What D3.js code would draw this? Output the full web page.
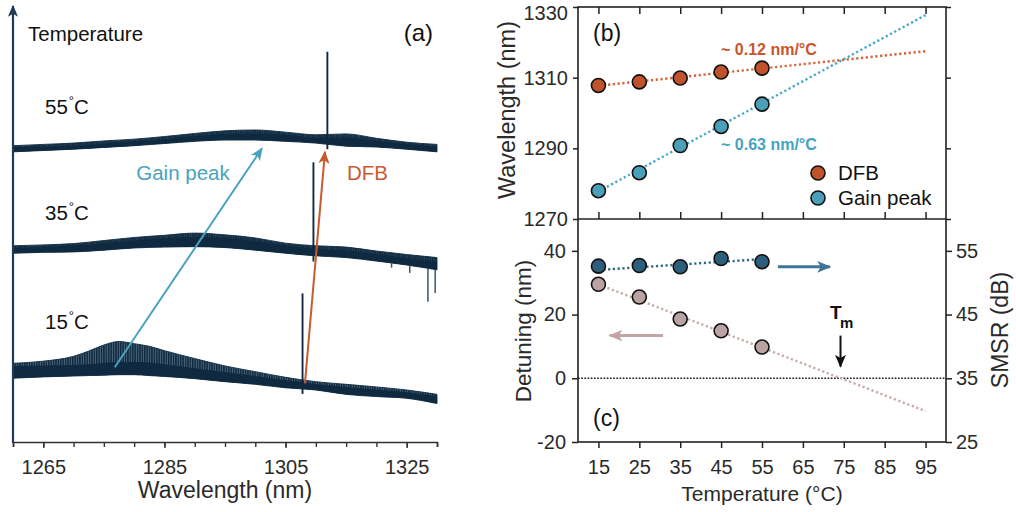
<!DOCTYPE html>
<html><head><meta charset="utf-8">
<script src="https://cdn.jsdelivr.net/npm/d3@7"></script>
<style>
body{margin:0;background:#fff}
svg{display:block}
text{font-family:"Liberation Sans", Arial, Helvetica, sans-serif}
</style>
</head><body>
<svg id="chart" width="1016" height="512"></svg>
<script>
// ================= DATA =================
// Panel (a): optical spectra (relative level, a.u.), envelopes
const specLambda = [1260,1265,1270,1275,1280,1285,1290,1295,1300,1305,1310,1315,1320,1325,1330];
const spec55Top    = [67.8,68.1,68.4,68.9,69.3,69.9,70.6,71.2,71.4,70.9,70.3,70.5,69.5,68.6,68.1];
const spec55Core   = [67.4,67.6,67.8,68.3,68.8,69.3,70.0,70.5,70.6,70.3,69.6,69.6,68.9,68.2,67.5];
const spec55Bottom = [66.4,66.7,67.0,67.4,67.8,68.3,68.8,69.1,69.1,68.8,68.4,67.7,67.5,67.0,66.4];
const spec35Top    = [44.9,45.1,45.4,46.1,46.8,47.3,47.8,47.4,46.7,45.5,44.9,44.6,43.7,42.9,42.2];
const spec35Core   = [44.4,44.6,45.0,45.5,46.1,46.6,46.9,46.7,46.0,45.0,44.2,43.9,43.0,42.1,41.2];
const spec35Bottom = [43.2,43.4,43.5,43.9,44.4,44.6,44.7,44.5,43.9,43.2,42.6,42.2,41.4,40.5,39.4];
const spec15Lambda = [1260,1265,1270,1272.5,1275,1277.5,1280,1282.5,1285,1290,1295,1300,1305,1310,1315,1320,1325,1330];
const spec15Top    = [18.0,18.5,19.6,20.8,22.2,23.0,22.5,21.9,20.9,19.1,17.4,16.1,14.8,13.8,13.2,12.6,11.9,10.9];
const spec15Core   = [17.4,17.5,17.6,17.8,18.1,18.3,18.3,18.2,17.8,16.9,16.0,15.1,14.2,13.3,12.6,12.0,11.4,10.5];
const spec15Bottom = [14.6,14.9,15.1,15.2,15.3,15.4,15.4,15.2,15.0,14.5,13.8,13.2,12.4,11.9,10.9,10.4,10.0,8.8];
const dfbPeakLambda = [1307.8,1309.6,1311.9];
const dfbPeakTop    = [34.0,64.0,89.3];
const dfbPeakDip    = [11.0,41.3,67.0];
const dropLambda = [1322.5,1325.5,1328.5,1329.7];
const dropFrom   = [41.0,40.4,39.8,39.5];
const dropTo     = [39.9,38.7,32.1,34.1];
const traceTemps = ["15","35","55"];
const xTicksA = [1265,1285,1305,1325];
const xMinorA = [1260,1265,1270,1275,1280,1285,1290,1295,1300,1305,1310,1315,1320,1325,1330];
const gainArrowLambda = [1276.8,1301.1];
const gainArrowLevel  = [17.1,67.2];
const dfbArrowLambda  = [1308.2,1311.5];
const dfbArrowLevel   = [13.4,66.4];

// Panel (b)
const temps   = [15,25,35,45,55];
const dfbWl   = [1307.8,1308.8,1309.9,1311.6,1312.7];
const gainWl  = [1278.0,1283.1,1290.8,1296.2,1302.5];
const fitT    = [15,95];
const dfbFit  = [1307.7,1317.5];
const gainFit = [1277.8,1327.7];
const wlTicks = [1270,1290,1310,1330];
const legendNames = ["DFB","Gain peak"];

// Panel (c)
const detuning = [29.5,25.5,18.6,14.9,9.8];
const detFit   = [29.5,-10.3];
const smsr     = [52.6,52.7,52.5,53.8,53.3];
const smsrFitT = [15,55];
const smsrFit  = [52.0,53.7];
const tempTicks = [15,25,35,45,55,65,75,85,95];
const detTicks  = [-20,0,20,40];
const smsrTicks = [25,35,45,55];
const smsrArrowT = [58.9,71.6];
const smsrArrowV = [52.5,52.5];
const detArrowT  = [30.8,17.8];
const detArrowV  = [13.4,13.4];
const tmArrowT   = [74.2,74.2];
const tmArrowV   = [13.4,3.7];

// ================= COLOURS =================
const NAVY = "#0f2a40", TEAL = "#4aa3bd", ORANGE = "#c85a32";
const C_DFB = "#c0532b", C_GAIN = "#4aa0b8", C_DET = "#baa3a3", C_SMSR = "#2d5f7d";
const TXT = "#2a2a2a";
const plainFmt = d => String(d);

const svg = d3.select("#chart");
const defs = svg.append("defs");

function marker(id, color, size) {
  defs.append("marker").attr("id", id).attr("viewBox", "0 0 10 10")
    .attr("refX", 9).attr("refY", 5).attr("markerUnits", "userSpaceOnUse")
    .attr("markerWidth", size).attr("markerHeight", size).attr("orient", "auto")
    .append("path").attr("d", "M0,0.8 L10,5 L0,9.2 L2.5,5 Z").attr("fill", color);
}
marker("mTeal", TEAL, 13);
marker("mOrange", ORANGE, 13);
marker("mNavy", "#1e3b55", 12);
marker("mBlue", "#3f7596", 14);
marker("mPink", "#c2a5a5", 14);
marker("mBlack", "#111", 13);

function fringePattern(id, bg) {
  const p = defs.append("pattern").attr("id", id).attr("patternUnits", "userSpaceOnUse")
    .attr("width", 2.4).attr("height", 10);
  p.append("rect").attr("width", 2.4).attr("height", 10).attr("fill", bg);
  p.append("rect").attr("width", 1.5).attr("height", 10).attr("fill", NAVY);
}
fringePattern("fringeLight", "#4f687c");
fringePattern("fringeDark", "#2b4459");

// ================= PANEL (a) =================
const xA = d3.scaleLinear().domain([1260,1330]).range([13,437]);
const yA = d3.scaleLinear().domain([0,100]).range([442,5]);
const gA = svg.append("g");

function drawTrace(lam, top, core, bottom, fillId) {
  const idx = d3.range(lam.length);
  const outer = d3.area().x(i => xA(lam[i])).y0(i => yA(bottom[i])).y1(i => yA(top[i])).curve(d3.curveMonotoneX);
  const inner = d3.area().x(i => xA(lam[i])).y0(i => yA(bottom[i])).y1(i => yA(core[i])).curve(d3.curveMonotoneX);
  gA.append("path").attr("d", outer(idx)).attr("fill", `url(#${fillId})`).attr("stroke", NAVY).attr("stroke-width", 0.9);
  gA.append("path").attr("d", inner(idx)).attr("fill", NAVY);
}
drawTrace(spec15Lambda, spec15Top, spec15Core, spec15Bottom, "fringeLight");
drawTrace(specLambda, spec35Top, spec35Core, spec35Bottom, "fringeDark");
drawTrace(specLambda, spec55Top, spec55Core, spec55Bottom, "fringeDark");

dfbPeakLambda.forEach((l, i) => {
  gA.append("line").attr("x1", xA(l)).attr("x2", xA(l))
    .attr("y1", yA(dfbPeakDip[i])).attr("y2", yA(dfbPeakTop[i]))
    .attr("stroke", NAVY).attr("stroke-width", 1.9);
});
dropLambda.forEach((l, i) => {
  gA.append("line").attr("x1", xA(l)).attr("x2", xA(l))
    .attr("y1", yA(dropFrom[i])).attr("y2", yA(dropTo[i]))
    .attr("stroke", "#3a5468").attr("stroke-width", 1.5);
});

// arrows
gA.append("line").attr("x1", xA(gainArrowLambda[0])).attr("y1", yA(gainArrowLevel[0]))
  .attr("x2", xA(gainArrowLambda[1])).attr("y2", yA(gainArrowLevel[1]))
  .attr("stroke", TEAL).attr("stroke-width", 2).attr("marker-end", "url(#mTeal)");
gA.append("line").attr("x1", xA(dfbArrowLambda[0])).attr("y1", yA(dfbArrowLevel[0]))
  .attr("x2", xA(dfbArrowLambda[1])).attr("y2", yA(dfbArrowLevel[1]))
  .attr("stroke", ORANGE).attr("stroke-width", 2).attr("marker-end", "url(#mOrange)");

// axes (a)
gA.append("line").attr("x1", 13).attr("x2", 13).attr("y1", 443).attr("y2", 6)
  .attr("stroke", "#1e3b55").attr("stroke-width", 2.2).attr("marker-end", "url(#mNavy)");
const axA = gA.append("g").attr("transform", "translate(0,442)")
  .call(d3.axisBottom(xA).tickValues(xMinorA).tickSize(5).tickFormat(""));
axA.select(".domain").attr("stroke", "#333").attr("stroke-width", 1.6);
axA.selectAll(".tick line").attr("stroke", "#333").attr("stroke-width", 1.4);
const axA2 = gA.append("g").attr("transform", "translate(0,442)")
  .call(d3.axisBottom(xA).tickValues(xTicksA).tickSize(6).tickPadding(12).tickFormat(plainFmt));
axA2.select(".domain").remove();
axA2.selectAll(".tick line").attr("stroke", "#333").attr("stroke-width", 1.4);
axA2.selectAll("text").attr("font-size", 20).attr("fill", TXT).attr("font-family", "Liberation Sans, Arial, sans-serif");

gA.append("text").attr("x", 225).attr("y", 498).attr("text-anchor", "middle")
  .attr("font-size", 23).attr("fill", TXT).text("Wavelength (nm)");
gA.append("text").attr("x", 28).attr("y", 40.5).attr("font-size", 20.5).attr("fill", "#111").text("Temperature");
gA.append("text").attr("x", 433).attr("y", 41).attr("text-anchor", "end").attr("font-size", 24).attr("fill", "#111").text("(a)");

const labelY = [329, 220, 114];
traceTemps.forEach((t, i) => {
  const tx = gA.append("text").attr("x", 45).attr("y", labelY[i]).attr("font-size", 20.5).attr("fill", "#111");
  tx.append("tspan").text(t);
  tx.append("tspan").attr("font-size", 13).attr("dy", -9).attr("dx", 1).text("°");
  tx.append("tspan").attr("dy", 9).text("C");
});
gA.append("text").attr("x", 183).attr("y", 180).attr("text-anchor", "middle")
  .attr("font-size", 20.5).attr("fill", TEAL).text("Gain peak");
gA.append("text").attr("x", 347).attr("y", 180)
  .attr("font-size", 20.5).attr("fill", ORANGE).text("DFB");

// ================= PANELS (b) & (c) =================
const xT = d3.scaleLinear().domain([10,100]).range([578,946]);
const yB = d3.scaleLinear().domain([1270,1330]).range([219,7]);
const yC = d3.scaleLinear().domain([-20,50]).range([442,219]);
const yS = d3.scaleLinear().domain([25,60]).range([442,219]);
const gR = svg.append("g");

function styleAxis(sel, showText) {
  sel.select(".domain").remove();
  sel.selectAll(".tick line").attr("stroke", "#222").attr("stroke-width", 1.5);
  sel.selectAll("text").attr("font-size", 20).attr("fill", TXT).attr("font-family", "Liberation Sans, Arial, sans-serif");
  if (!showText) sel.selectAll("text").remove();
}
// (b) axes
const axBL = gR.append("g").attr("transform", "translate(578,0)")
  .call(d3.axisLeft(yB).tickValues(wlTicks).tickSize(5).tickPadding(5).tickFormat(plainFmt));
styleAxis(axBL, true);
axBL.selectAll(".tick text").filter(d => d === wlTicks[wlTicks.length - 1]).attr("dy", "0.6em");
styleAxis(gR.append("g").attr("transform", "translate(946,0)")
  .call(d3.axisRight(yB).tickValues(wlTicks).tickSize(5)), false);
styleAxis(gR.append("g").attr("transform", "translate(0,7)")
  .call(d3.axisTop(xT).tickValues(tempTicks).tickSize(-7)), false);
styleAxis(gR.append("g").attr("transform", "translate(0,219)")
  .call(d3.axisBottom(xT).tickValues(tempTicks).tickSize(-7)), false);
// (c) axes
styleAxis(gR.append("g").attr("transform", "translate(0,442)")
  .call(d3.axisBottom(xT).tickValues(tempTicks).tickSize(6).tickPadding(12).tickFormat(plainFmt)), true);
styleAxis(gR.append("g").attr("transform", "translate(578,0)")
  .call(d3.axisLeft(yC).tickValues(detTicks).tickSize(6).tickPadding(6).tickFormat(plainFmt)), true);
styleAxis(gR.append("g").attr("transform", "translate(946,0)")
  .call(d3.axisRight(yS).tickValues(smsrTicks).tickSize(6).tickPadding(4).tickFormat(plainFmt)), true);

// frames
gR.append("rect").attr("x", 578).attr("y", 7).attr("width", 368).attr("height", 435)
  .attr("fill", "none").attr("stroke", "#222").attr("stroke-width", 1.6);
gR.append("line").attr("x1", 578).attr("x2", 946).attr("y1", 219).attr("y2", 219)
  .attr("stroke", "#222").attr("stroke-width", 1.6);

// zero line (c)
gR.append("line").attr("x1", 578).attr("x2", 946).attr("y1", yC(0)).attr("y2", yC(0))
  .attr("stroke", "#111").attr("stroke-width", 1.5).attr("stroke-dasharray", "1.6,1.6");

// fit lines
function fit(xs, ys, yScale, color) {
  gR.append("path").attr("d", d3.line().x((d, i) => xT(xs[i])).y(d => yScale(d))(ys))
    .attr("fill", "none").attr("stroke", color).attr("stroke-width", 2.4).attr("stroke-dasharray", "2.2,2.6");
}
fit(fitT, dfbFit, yB, "#d4623a");
fit(fitT, gainFit, yB, "#46a8c8");
fit(fitT, detFit, yC, "#c9aaa8");
fit(smsrFitT, smsrFit, yS, "#2f6585");

// points
function pts(vals, yScale, color) {
  gR.selectAll(null).data(vals).enter().append("circle")
    .attr("cx", (d, i) => xT(temps[i])).attr("cy", d => yScale(d)).attr("r", 7)
    .attr("fill", color).attr("stroke", "#111").attr("stroke-width", 1.6);
}
pts(dfbWl, yB, C_DFB);
pts(gainWl, yB, C_GAIN);
pts(detuning, yC, C_DET);
pts(smsr, yS, C_SMSR);

// annotations (b)
gR.append("text").attr("x", 721).attr("y", 55).attr("font-size", 16).attr("font-weight", "bold")
  .attr("fill", "#c8552b").text("~ 0.12 nm/°C");
gR.append("text").attr("x", 721).attr("y", 150).attr("font-size", 16).attr("font-weight", "bold")
  .attr("fill", "#46a3bf").text("~ 0.63 nm/°C");
gR.append("text").attr("x", 593).attr("y", 41).attr("font-size", 23).attr("fill", "#111").text("(b)");
// legend
const legColors = [C_DFB, C_GAIN];
legendNames.forEach((n, i) => {
  gR.append("circle").attr("cx", 818).attr("cy", 173 + i * 25).attr("r", 7)
    .attr("fill", legColors[i]).attr("stroke", "#111").attr("stroke-width", 1.6);
  gR.append("text").attr("x", 838).attr("y", 180 + i * 25).attr("font-size", 20.5).attr("fill", "#111").text(n);
});

// annotations (c)
gR.append("line").attr("x1", xT(smsrArrowT[0])).attr("x2", xT(smsrArrowT[1]))
  .attr("y1", yS(smsrArrowV[0])).attr("y2", yS(smsrArrowV[1]))
  .attr("stroke", "#3f7596").attr("stroke-width", 3).attr("marker-end", "url(#mBlue)");
gR.append("line").attr("x1", xT(detArrowT[0])).attr("x2", xT(detArrowT[1]))
  .attr("y1", yC(detArrowV[0])).attr("y2", yC(detArrowV[1]))
  .attr("stroke", "#c2a5a5").attr("stroke-width", 3).attr("marker-end", "url(#mPink)");
gR.append("line").attr("x1", xT(tmArrowT[0])).attr("x2", xT(tmArrowT[1]))
  .attr("y1", yC(tmArrowV[0])).attr("y2", yC(tmArrowV[1]))
  .attr("stroke", "#111").attr("stroke-width", 2).attr("marker-end", "url(#mBlack)");
gR.append("text").attr("x", 830).attr("y", 318.5).attr("font-size", 19).attr("font-weight", "bold")
  .attr("fill", "#111").text("T");
gR.append("text").attr("x", 840).attr("y", 328).attr("font-size", 15).attr("font-weight", "bold")
  .attr("fill", "#111").text("m");
gR.append("text").attr("x", 593).attr("y", 426).attr("font-size", 23).attr("fill", "#111").text("(c)");

// axis titles
gR.append("text").attr("transform", "translate(515,110) rotate(-90)").attr("text-anchor", "middle")
  .attr("font-size", 23.5).attr("fill", TXT).text("Wavelength (nm)");
gR.append("text").attr("transform", "translate(531,331) rotate(-90)").attr("text-anchor", "middle")
  .attr("font-size", 22.5).attr("fill", TXT).text("Detuning (nm)");
gR.append("text").attr("transform", "translate(1008,330) rotate(-90)").attr("text-anchor", "middle")
  .attr("font-size", 23).attr("fill", TXT).text("SMSR (dB)");
gR.append("text").attr("x", 762).attr("y", 501).attr("text-anchor", "middle")
  .attr("font-size", 21).attr("fill", TXT).text("Temperature (°C)");
</script>
</body></html>
